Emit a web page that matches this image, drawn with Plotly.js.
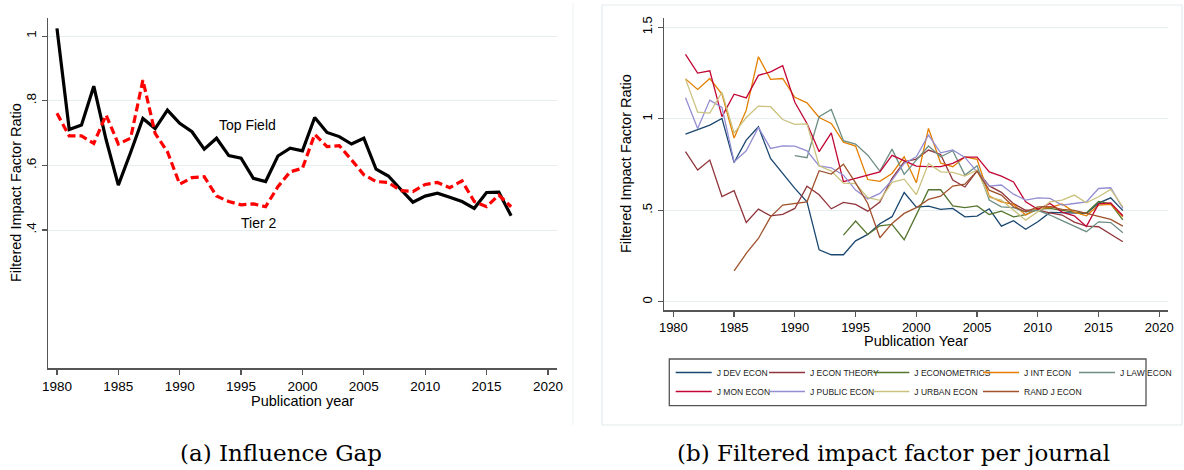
<!DOCTYPE html>
<html><head><meta charset="utf-8">
<script src="https://cdn.plot.ly/plotly-3.0.1.min.js"></script>
<style>html,body{margin:0;padding:0;background:#fff;}#chart{width:1184px;height:470px;}</style>
</head><body><div id="chart"></div>
<script>
// ---------- Panel (a): Influence Gap ----------
const yearsA = [1980,1981,1982,1983,1984,1985,1986,1987,1988,1989,1990,1991,1992,1993,1994,1995,1996,1997,1998,1999,2000,2001,2002,2003,2004,2005,2006,2007,2008,2009,2010,2011,2012,2013,2014,2015,2016,2017];
const topField = [1.024,0.711,0.725,0.845,0.680,0.539,0.640,0.745,0.714,0.771,0.730,0.704,0.650,0.684,0.630,0.622,0.560,0.550,0.629,0.653,0.645,0.748,0.702,0.689,0.666,0.684,0.588,0.567,0.526,0.486,0.505,0.514,0.501,0.488,0.467,0.516,0.517,0.444];
const tier2 = [0.761,0.691,0.691,0.668,0.756,0.666,0.684,0.864,0.699,0.642,0.542,0.562,0.565,0.505,0.488,0.478,0.481,0.472,0.534,0.580,0.591,0.696,0.658,0.661,0.617,0.571,0.550,0.547,0.522,0.519,0.541,0.547,0.531,0.552,0.488,0.472,0.508,0.472];
const seriesLabelsA = ["Top Field","Tier 2"];
const labelPosYearA = [1995.54, 1996.42];
const labelPosValA = [0.725, 0.421];
const yTicksA = [0.4,0.6,0.8,1];
const yTickTextA = [".4",".6",".8","1"];

// ---------- Panel (b): Filtered impact factor per journal ----------
const yearsB = [1981,1982,1983,1984,1985,1986,1987,1988,1989,1990,1991,1992,1993,1994,1995,1996,1997,1998,1999,2000,2001,2002,2003,2004,2005,2006,2007,2008,2009,2010,2011,2012,2013,2014,2015,2016,2017];
const journals = ["J DEV ECON","J ECON THEORY","J ECONOMETRICS","J INT ECON","J LAW ECON","J MON ECON","J PUBLIC ECON","J URBAN ECON","RAND J ECON"];
const jDevEcon = [0.916,0.942,0.965,1.002,0.761,0.883,0.956,0.783,0.701,0.620,0.546,0.284,0.257,0.257,0.333,0.368,0.426,0.465,0.597,0.517,0.523,0.505,0.510,0.464,0.468,0.508,0.413,0.443,0.396,0.437,0.488,0.486,0.488,0.483,0.539,0.568,0.498];
const jEconTheory = [0.820,0.720,0.774,0.575,0.607,0.433,0.506,0.469,0.478,0.510,0.632,0.585,0.508,0.543,0.532,0.495,0.545,0.674,0.765,0.780,0.829,0.805,0.665,0.627,0.715,0.633,0.598,0.536,0.500,0.500,0.486,0.474,0.435,0.413,0.410,0.367,0.328];
const jEconometrics = [null,null,null,null,null,null,null,null,null,null,null,null,null,0.364,0.441,0.368,0.415,0.423,0.339,0.475,0.612,0.612,0.524,0.515,0.524,0.477,0.495,0.464,0.476,0.505,0.510,0.500,0.490,0.485,0.548,0.535,0.448];
const jIntEcon = [1.218,1.160,1.220,1.135,0.895,1.047,1.339,1.215,1.220,1.117,1.087,1.007,0.974,0.872,0.851,0.668,0.658,0.701,0.792,0.650,0.947,0.758,0.738,0.792,0.778,0.577,0.546,0.532,0.474,0.510,0.515,0.535,0.490,0.470,0.528,0.532,0.464];
const jLawEcon = [null,null,null,null,null,null,null,null,null,0.798,0.787,1.011,1.051,0.880,0.862,0.801,0.714,0.834,0.696,0.774,0.851,0.792,0.825,0.692,0.743,0.556,0.519,0.514,0.492,0.500,0.474,0.443,0.415,0.383,0.437,0.433,0.377];
const jMonEcon = [1.352,1.250,1.262,1.012,1.134,1.114,1.237,1.256,1.290,1.090,0.974,0.820,0.923,0.656,0.674,0.692,0.710,0.800,0.770,0.741,0.738,0.738,0.756,0.790,0.790,0.710,0.687,0.655,0.546,0.505,0.537,0.490,0.470,0.412,0.535,0.540,0.470];
const jPublicEcon = [1.115,0.947,1.102,1.062,0.765,0.825,0.953,0.838,0.852,0.851,0.825,0.742,0.732,0.692,0.610,0.562,0.592,0.665,0.756,0.792,0.911,0.814,0.829,0.789,0.710,0.632,0.638,0.588,0.556,0.568,0.565,0.528,0.537,0.546,0.619,0.623,0.510];
const jUrbanEcon = [1.218,1.036,1.031,1.145,0.921,1.007,1.069,1.066,0.996,0.969,0.972,0.743,0.714,0.648,0.646,0.569,0.554,0.653,0.670,0.585,0.756,0.710,0.707,0.687,0.720,0.570,0.556,0.500,0.446,0.492,0.546,0.556,0.583,0.541,0.574,0.614,0.519];
const randJEcon = [null,null,null,null,0.169,0.264,0.346,0.464,0.528,0.538,0.546,0.716,0.698,0.752,0.650,0.537,0.350,0.428,0.483,0.514,0.559,0.577,0.632,0.643,0.714,0.610,0.583,0.519,0.492,0.519,0.520,0.505,0.500,0.483,0.468,0.450,0.413];
const journalValues = [jDevEcon,jEconTheory,jEconometrics,jIntEcon,jLawEcon,jMonEcon,jPublicEcon,jUrbanEcon,randJEcon];
const yTicksB = [0,0.5,1,1.5];
const yTickTextB = ["0",".5","1","1.5"];
const xTicks = [1980,1985,1990,1995,2000,2005,2010,2015,2020];

// ---------- styles ----------
const journalColors = ["#1a476f","#90353b","#55752f","#e37e00","#6e8e84","#c10534","#938dd2","#cac27e","#a0522d"];
const journalLegend = ["legend","legend2","legend3","legend4","legend5","legend","legend2","legend3","legend4"];
const W = 1184, H = 470;
const px = v => v / W;
const py = v => 1 - v / H;
const AX = '#555';
const GRID = '#e6eef0';
const SANS = 'Liberation Sans, Arial, Helvetica, sans-serif';
const SERIF = 'DejaVu Serif, Liberation Serif, serif';

const traces = [
  {x: yearsA, y: topField, type:'scatter', mode:'lines', name: seriesLabelsA[0], xaxis:'x', yaxis:'y',
   line:{color:'#000', width:3.2}, showlegend:false, hoverinfo:'skip'},
  {x: yearsA, y: tier2, type:'scatter', mode:'lines', name: seriesLabelsA[1], xaxis:'x', yaxis:'y',
   line:{color:'#ff0000', width:3.2, dash:'8px,4px'}, showlegend:false, hoverinfo:'skip'}
];
journals.forEach((j, i) => {
  traces.push({x: yearsB, y: journalValues[i], type:'scatter', mode:'lines', name: j,
    xaxis:'x2', yaxis:'y2', line:{color: journalColors[i], width:1.3}, connectgaps:false,
    legend: journalLegend[i], hoverinfo:'skip'});
});

const axCommon = {ticks:'outside', ticklen:5, tickwidth:1.2, tickcolor:AX, showline:true, linecolor:AX,
  linewidth:1.5, zeroline:false, fixedrange:true};

const legendText = [716.7, 810, 914.3, 1024, 1120];
const legendBase = {orientation:'v', bgcolor:'rgba(0,0,0,0)', borderwidth:0, itemwidth:36,
  font:{family:SANS, size:8.5, color:'#222'}, yanchor:'top', xanchor:'left', tracegroupgap:0};
function mkLegend(i){ return Object.assign({}, legendBase, {x: px(legendText[i]-46), y: py(358)}); }

const layout = {
  width:W, height:H, margin:{l:0,r:0,t:0,b:0,autoexpand:false},
  paper_bgcolor:'#fff', plot_bgcolor:'rgba(0,0,0,0)',
  font:{family:SANS, size:13.5, color:'#000'},
  showlegend:true,
  xaxis: Object.assign({}, axCommon, {domain:[px(48), px(557)], range:[1979.27, 2020.74], anchor:'y',
    tickvals:xTicks, ticktext:xTicks.map(String), showgrid:false, tickfont:{size:13.5}}),
  yaxis: Object.assign({}, axCommon, {domain:[py(368), py(18)], range:[-0.027, 1.056], anchor:'x',
    tickvals:yTicksA, ticktext:yTickTextA, tickangle:-90, showgrid:true, gridcolor:GRID, gridwidth:1,
    tickfont:{size:13.5}}),
  xaxis2: Object.assign({}, axCommon, {domain:[px(664), px(1168.3)], range:[1979.23, 2020.74], anchor:'y2',
    tickvals:xTicks, ticktext:xTicks.map(String), showgrid:false, tickfont:{size:13}}),
  yaxis2: Object.assign({}, axCommon, {domain:[py(310), py(18.3)], range:[-0.045, 1.549], anchor:'x2',
    tickvals:yTicksB, ticktext:yTickTextB, tickangle:-90, showgrid:true, gridcolor:GRID, gridwidth:1,
    tickfont:{size:13}}),
  legend: mkLegend(0), legend2: mkLegend(1), legend3: mkLegend(2), legend4: mkLegend(3), legend5: mkLegend(4),
  shapes: [
    {type:'rect', xref:'paper', yref:'paper', x0:px(602), x1:px(1182), y0:py(425), y1:py(5),
     line:{color:'#e3ebee', width:1.2}, fillcolor:'rgba(0,0,0,0)', layer:'below'},
    {type:'line', xref:'paper', yref:'paper', x0:px(573), x1:px(573), y0:py(425), y1:py(3),
     line:{color:'#eef3f4', width:1.2}, layer:'below'},
    {type:'rect', xref:'paper', yref:'paper', x0:px(669.3), x1:px(1146), y0:py(405.7), y1:py(359),
     line:{color:'#555', width:1.3}, fillcolor:'rgba(0,0,0,0)'}
  ],
  annotations: [
    {text: seriesLabelsA[0], xref:'x', yref:'y', x: labelPosYearA[0], y: labelPosValA[0], showarrow:false,
     font:{family:SANS, size:14, color:'#000'}, xanchor:'center', yanchor:'middle'},
    {text: seriesLabelsA[1], xref:'x', yref:'y', x: labelPosYearA[1], y: labelPosValA[1], showarrow:false,
     font:{family:SANS, size:14, color:'#000'}, xanchor:'center', yanchor:'middle'},
    {text:'Filtered Impact Factor Ratio', xref:'paper', yref:'paper', x:px(16), y:py(193), textangle:-90,
     showarrow:false, font:{family:SANS, size:14.5}, xanchor:'center', yanchor:'middle'},
    {text:'Publication year', xref:'paper', yref:'paper', x:px(302), y:py(401), showarrow:false,
     font:{family:SANS, size:14.5}, xanchor:'center', yanchor:'middle'},
    {text:'Filtered Impact Factor Ratio', xref:'paper', yref:'paper', x:px(626), y:py(164), textangle:-90,
     showarrow:false, font:{family:SANS, size:14.5}, xanchor:'center', yanchor:'middle'},
    {text:'Publication Year', xref:'paper', yref:'paper', x:px(916), y:py(341), showarrow:false,
     font:{family:SANS, size:14.5}, xanchor:'center', yanchor:'middle'},
    {text:'(a) Influence Gap', xref:'paper', yref:'paper', x:px(281), y:py(453), showarrow:false,
     font:{family:SERIF, size:23}, xanchor:'center', yanchor:'middle'},
    {text:'(b) Filtered impact factor per journal', xref:'paper', yref:'paper', x:px(893), y:py(453), showarrow:false,
     font:{family:SERIF, size:23}, xanchor:'center', yanchor:'middle'}
  ]
};

Plotly.newPlot('chart', traces, layout, {displayModeBar:false, staticPlot:true});
</script></body></html>
